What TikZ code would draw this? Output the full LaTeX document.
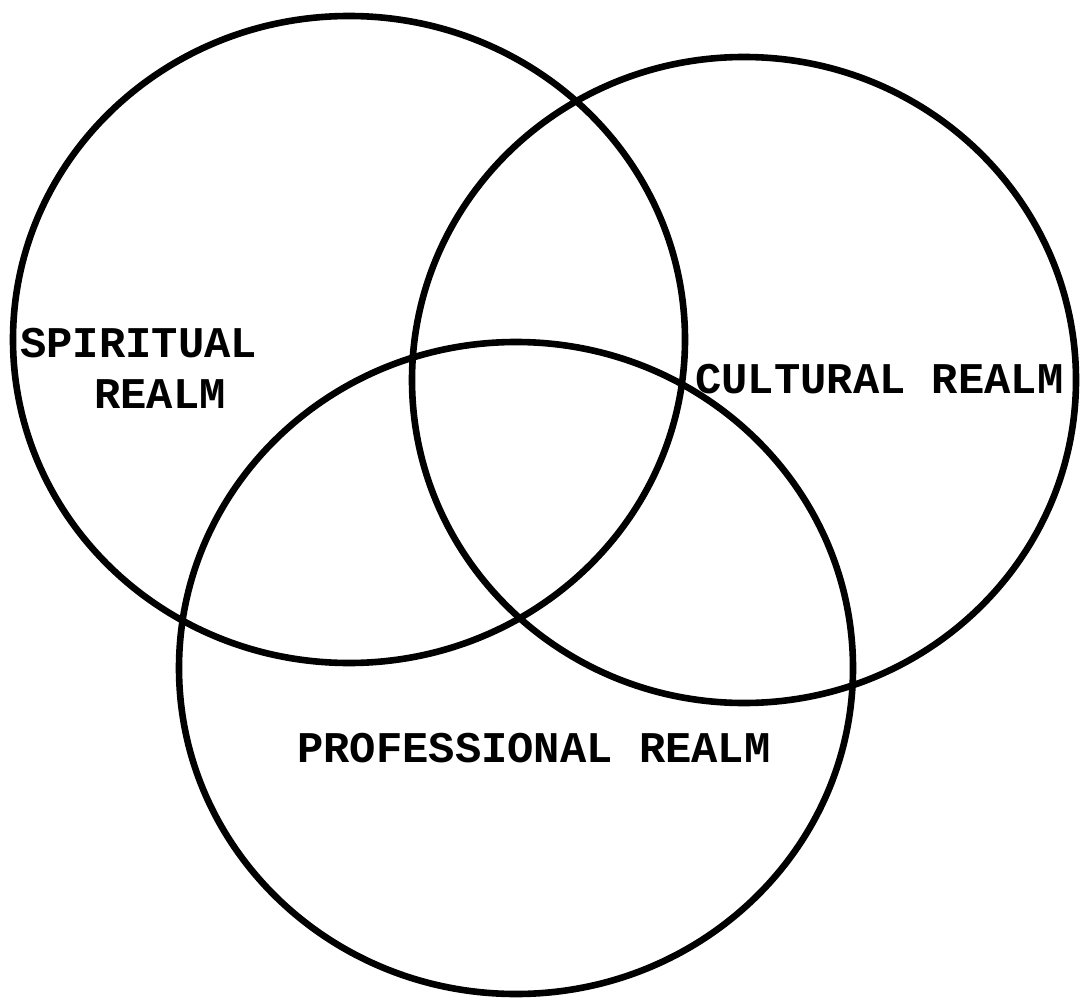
\documentclass[tikz,border=0pt]{standalone}
\usepackage{fontspec}
\setmonofont{Liberation Mono}
\usetikzlibrary{shapes.geometric}

\begin{document}
\begin{tikzpicture}[x=0.5pt, y=0.5pt,
  every node/.style={font=\ttfamily\bfseries\fontsize{21.9}{25}\selectfont},
  realm/.style={draw, ellipse, line width=3.3pt, inner sep=0pt},
  lbl/.style={anchor=base west, inner sep=0pt}]
\useasboundingbox (0,0) rectangle (1080,998);
% the three realms
\node[realm, minimum width=336pt, minimum height=323.5pt] (spiritual) at (349,658.5) {};
\node[realm, minimum width=332pt, minimum height=323pt] (cultural) at (744,618) {};
\node[realm, minimum width=337pt, minimum height=326pt] (professional) at (516,330) {};
% labels
\node[lbl] (spiritualA) at (20,641) {SPIRITUAL};
\node[lbl] (spiritualB) at (94,590) {REALM};
\node[lbl] (culturalA) at (695,605) {CULTURAL REALM};
\node[lbl] (professionalA) at (297,236) {PROFESSIONAL REALM};
\end{tikzpicture}
\end{document}
